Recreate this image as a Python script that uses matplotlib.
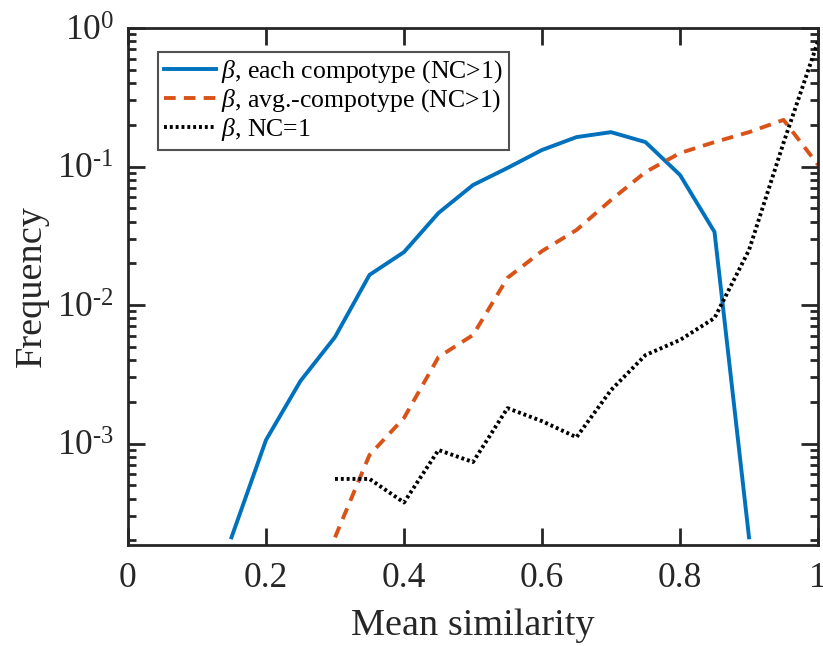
import math
import matplotlib
matplotlib.use("Agg")
import matplotlib.pyplot as plt
from matplotlib.ticker import LogLocator, FuncFormatter, NullLocator, FixedLocator

plt.rcParams['font.family'] = ['Liberation Serif', 'DejaVu Serif']
plt.rcParams['mathtext.fontset'] = 'custom'
plt.rcParams['mathtext.rm'] = 'Liberation Serif'
plt.rcParams['mathtext.it'] = 'Liberation Serif:italic'

# Mean-similarity bins
x_each = [0.15, 0.20, 0.25, 0.30, 0.35, 0.40, 0.45, 0.50, 0.55, 0.60,
          0.65, 0.70, 0.75, 0.80, 0.85, 0.90]
freq_each = [2.1e-4, 1.06e-3, 2.83e-3, 5.87e-3, 0.0165, 0.0241, 0.0462, 0.0735,
             0.0976, 0.1316, 0.163, 0.177, 0.150, 0.0869, 0.0337, 2.1e-4]

x_avg = [0.30, 0.35, 0.40, 0.45, 0.50, 0.55, 0.60, 0.65, 0.70, 0.75,
         0.80, 0.85, 0.90, 0.95, 1.00]
freq_avg = [2.1e-4, 8.26e-4, 1.53e-3, 4.21e-3, 6.07e-3, 0.0157, 0.0245, 0.0348,
            0.0573, 0.0912, 0.125, 0.150, 0.177, 0.217, 0.103]

x_nc1 = [0.30, 0.35, 0.40, 0.45, 0.50, 0.55, 0.60, 0.65, 0.70, 0.75,
         0.80, 0.85, 0.90, 0.95, 1.00]
freq_nc1 = [5.55e-4, 5.55e-4, 3.75e-4, 8.97e-4, 7.35e-4, 1.8e-3, 1.45e-3, 1.11e-3,
            2.43e-3, 4.35e-3, 5.59e-3, 8.05e-3, 0.0249, 0.148, 0.80]

labels = [r'$\beta$, each compotype (NC>1)',
          r'$\beta$, avg.-compotype (NC>1)',
          r'$\beta$, NC=1']

x_ticks = [0, 0.2, 0.4, 0.6, 0.8, 1.0]
x_tick_labels = ['0', '0.2', '0.4', '0.6', '0.8', '1']

fig = plt.figure(figsize=(8.23, 6.46), dpi=100)
ax = fig.add_axes([128 / 823, 1 - 545 / 646, 690 / 823, 517 / 646])

ax.plot(x_each, freq_each, color='#0072BD', lw=2.8, label=labels[0])
ax.plot(x_avg, freq_avg, color='#D95319', lw=2.8, ls=(0, (3.0, 2.1)),
        label=labels[1])
ax.plot(x_nc1, freq_nc1, color='black', lw=2.8, ls=(0, (0.75, 0.75)),
        label=labels[2])

ax.set_yscale('log')
ax.set_xlim(0, 1)
ax.set_ylim(1.85e-4, 1)

ax.xaxis.set_major_locator(FixedLocator(x_ticks))
ax.xaxis.set_minor_locator(NullLocator())
ax.set_xticklabels(x_tick_labels)
ax.yaxis.set_major_locator(LogLocator(base=10, numticks=10))
ax.yaxis.set_minor_locator(LogLocator(base=10, subs=range(2, 10), numticks=20))


def pow10(v, pos):
    e = round(math.log10(v))
    sup = '0' if e == 0 else r'\text{-}%d' % abs(e)
    return r'$\mathregular{10^{%s}}$' % sup


ax.yaxis.set_major_formatter(FuncFormatter(pow10))

ax.tick_params(which='both', direction='in', top=True, right=True,
               color='#262626', width=2.0, labelsize=25.5, labelcolor='#262626')
ax.tick_params(which='major', length=12)
ax.tick_params(axis='x', which='major', pad=12)
ax.tick_params(axis='y', which='major', pad=10)
ax.tick_params(which='minor', length=6)
for s in ax.spines.values():
    s.set_linewidth(2.0)
    s.set_color('#262626')

ax.set_xlabel('Mean similarity', fontsize=27.5, color='#262626', labelpad=10)
ax.set_ylabel('Frequency', fontsize=27.5, color='#262626', labelpad=6)

leg = ax.legend(loc='upper left', bbox_to_anchor=(30 / 690, 1 - 24 / 517),
                fontsize=18.5, frameon=True, fancybox=False, edgecolor='#262626',
                handlelength=2.0, handletextpad=0.2, borderpad=0.25,
                labelspacing=0.08, borderaxespad=0)
leg.get_frame().set_linewidth(1.5)

fig.savefig('out.png', dpi=100)
